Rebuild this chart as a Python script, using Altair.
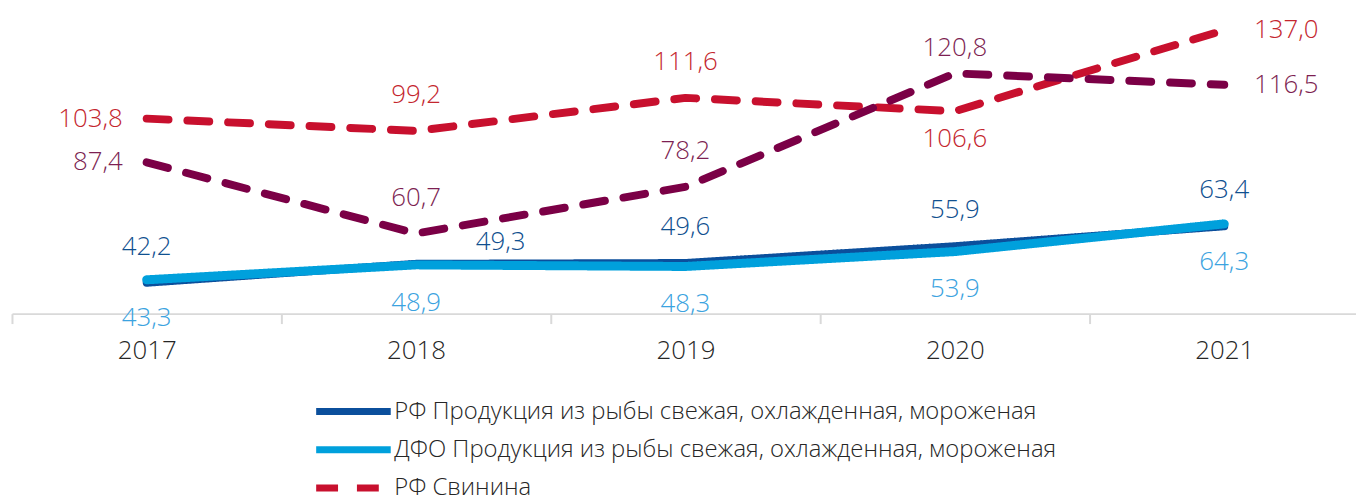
import altair as alt
import pandas as pd

# ---- data ----
YEARS = [2017, 2018, 2019, 2020, 2021]
SERIES = [
    "РФ Продукция из рыбы свежая, охлажденная, мороженая",
    "ДФО Продукция из рыбы свежая, охлажденная, мороженая",
    "РФ Свинина",
    "ДФО Свинина",
]
RF_FISH = [42.2, 49.3, 49.6, 55.9, 63.4]
DFO_FISH = [43.3, 48.9, 48.3, 53.9, 64.3]
RF_PORK = [103.8, 99.2, 111.6, 106.6, 137.0]
DFO_PORK = [87.4, 60.7, 78.2, 120.8, 116.5]

# ---- styles ----
LINE_COLORS = ["#0b4f9c", "#00a0dc", "#c8102e", "#7b0046"]
LABEL_COLORS = ["#10508f", "#3ba3e0", "#c4262e", "#7d1f52"]
STROKE_WIDTHS = [8, 9, 8, 8]
DASHES = [[1, 0], [1, 0], [22, 19], [22, 19]]
# label placement codes per point
LABEL_POS = [
    ["T", "TR", "T", "T", "T"],
    ["B", "B", "B", "B", "B"],
    ["L", "T", "T", "Bn", "R"],
    ["L", "T", "T", "Tn", "R"],
]
POS_STYLE = {
    "T": dict(align="center", dx=0, dy=-36),
    "Tn": dict(align="center", dx=0, dy=-25),
    "B": dict(align="center", dx=0, dy=38),
    "Bn": dict(align="center", dx=0, dy=28),
    "L": dict(align="right", dx=-24, dy=0),
    "R": dict(align="left", dx=30, dy=0),
    "TR": dict(align="center", dx=85, dy=-22),
}

values = [RF_FISH, DFO_FISH, RF_PORK, DFO_PORK]
rows = []
for s, vals, poss in zip(SERIES, values, LABEL_POS):
    for yr, v, p in zip(YEARS, vals, poss):
        rows.append({"year": yr, "value": v, "series": s,
                     "label": f"{v:.1f}".replace(".", ","), "pos": p})
df = pd.DataFrame(rows)

FONT = "Open Sans"
tick_values = [y - 0.5 for y in YEARS] + YEARS

x_enc = alt.X(
    "year:Q",
    title=None,
    scale=alt.Scale(domain=[2016.5, 2021.489], nice=False, zero=False),
    axis=alt.Axis(
        values=tick_values,
        labelExpr="datum.value % 1 == 0 ? format(datum.value, 'd') : ''",
        tickOpacity={"condition": {"test": "datum.value % 1 == 0", "value": 0}, "value": 1},
        grid=False,
        domainColor="#d9d9d9",
        domainWidth=2,
        tickColor="#d9d9d9",
        tickWidth=2,
        tickSize=10,
        labelFont=FONT,
        labelFontSize=26,
        labelFontWeight=300,
        labelColor="#262626",
        labelPadding=14,
        labelOverlap=False,
        labelFlush=False,
    ),
)
y_enc = alt.Y(
    "value:Q",
    title=None,
    axis=None,
    scale=alt.Scale(domain=[30.6, 144.8], nice=False, zero=False),
)

legend = alt.Legend(
    title=None,
    orient="none",
    legendX=302.5,
    legendY=391.5,
    direction="vertical",
    symbolType="stroke",
    symbolSize=5625,
    symbolStrokeWidth=7,
    clipHeight=26,
    rowPadding=12.5,
    labelOffset=0,
    labelFont=FONT,
    labelFontSize=24,
    labelFontWeight=300,
    labelColor="#262626",
    labelLimit=1000,
    padding=0,
)
color_enc = alt.Color("series:N", scale=alt.Scale(domain=SERIES, range=LINE_COLORS), legend=legend)
dash_enc = alt.StrokeDash("series:N", scale=alt.Scale(domain=SERIES, range=DASHES), legend=legend)

base = alt.Chart(df)
layers = []
for i, s in enumerate(SERIES):
    layers.append(
        base.transform_filter(alt.datum.series == s)
        .mark_line(strokeWidth=STROKE_WIDTHS[i], strokeCap="round", strokeJoin="round")
        .encode(x=x_enc, y=y_enc, color=color_enc, strokeDash=dash_enc)
    )

fill_enc = alt.Fill("series:N", scale=alt.Scale(domain=SERIES, range=LABEL_COLORS), legend=None)
for code, st in POS_STYLE.items():
    layers.append(
        base.transform_filter(alt.datum.pos == code)
        .mark_text(font=FONT, fontSize=26, fontWeight=300, baseline="middle", **st)
        .encode(x=x_enc, y=y_enc, text="label:N", fill=fill_enc)
    )

chart = (
    alt.layer(*layers)
    .properties(
        width=1352,
        height=306,
        padding={"left": 4, "top": 0, "right": 0, "bottom": 181},
        autosize=alt.AutoSizeParams(type="none"),
    )
    .configure_view(stroke=None)
)

chart.save("out.html", embed_options={"renderer": "svg", "actions": False})
